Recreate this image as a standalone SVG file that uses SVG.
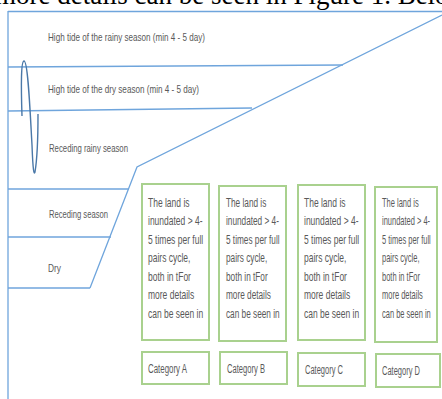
<svg xmlns="http://www.w3.org/2000/svg" width="442" height="399" viewBox="0 0 442 399">
<style>
.ln{fill:none;stroke:#6fa5dc;stroke-width:1.3}
.bx{fill:#fff;stroke:#a9d18e;stroke-width:2}
.lb{font-family:"Liberation Sans",Arial,sans-serif;font-size:11px;fill:#595959}
.bt{font-family:"Liberation Sans",Arial,sans-serif;font-size:12.5px;fill:#595959}
.hd{font-family:"Liberation Serif","Times New Roman",serif;font-size:27px;fill:#000}
</style>
<rect width="442" height="399" fill="#fff"/>
<text class="hd" x="-5" y="4">more details can be seen in Figure 1. Below</text>
<g id="connectors">
<path class="ln" d="M8,11.5 H442" stroke="#9cc2e8"/>
<path class="ln" d="M8,11 V399"/>
<path class="ln" d="M8,67 L343,65"/>
<path class="ln" d="M8,111 L252,108"/>
<path class="ln" d="M8,189 H129"/>
<path class="ln" d="M8,237 H111"/>
<path class="ln" d="M8,288 H90"/>
<path class="ln" d="M442,15 L137,167 L90,288"/>
<path d="M22,116 C21,85 21,61 24,61 C28,61 30,110 32,145 C33,172 34,175 35,172 C37,160 38,130 38,114" fill="none" stroke="#4a78a8" stroke-width="1.4"/>
</g>
<g id="label-rainy-high"><text class="lb" x="48" y="41" textLength="157" lengthAdjust="spacingAndGlyphs">High tide of the rainy season (min 4 - 5 day)</text></g>
<g id="label-dry-high"><text class="lb" x="48" y="93" textLength="151" lengthAdjust="spacingAndGlyphs">High tide of the dry season (min 4 - 5 day)</text></g>
<g id="label-receding-rainy"><text class="lb" x="49" y="152" textLength="79" lengthAdjust="spacingAndGlyphs">Receding rainy season</text></g>
<g id="label-receding"><text class="lb" x="49" y="218" textLength="59" lengthAdjust="spacingAndGlyphs">Receding season</text></g>
<g id="label-dry"><text class="lb" x="48" y="272" textLength="13" lengthAdjust="spacingAndGlyphs">Dry</text></g>
<defs>
<g id="lines">
<text class="bt" x="0" y="207">The land is</text>
<text class="bt" x="0" y="225.5">inundated &gt; 4-</text>
<text class="bt" x="0" y="244">5 times per full</text>
<text class="bt" x="0" y="262.5">pairs cycle,</text>
<text class="bt" x="0" y="281">both in tFor</text>
<text class="bt" x="0" y="299.5">more details</text>
<text class="bt" x="0" y="318">can be seen in</text>
</g>
</defs>
<g id="box-a"><rect class="bx" x="142" y="184" width="67" height="156"/><use href="#lines" transform="translate(148,0) scale(0.68,1)"/></g>
<g id="box-b"><rect class="bx" x="219" y="186" width="67" height="155"/><use href="#lines" transform="translate(226,0) scale(0.66,1)"/></g>
<g id="box-c"><rect class="bx" x="298" y="185" width="67" height="155"/><use href="#lines" transform="translate(304,0) scale(0.68,1)"/></g>
<g id="box-d"><rect class="bx" x="375" y="187" width="62" height="155"/><use href="#lines" transform="translate(382,0) scale(0.6,1)"/></g>
<g id="cat-a"><rect class="bx" x="142" y="352" width="67" height="32"/><text class="bt" x="148" y="373" textLength="39" lengthAdjust="spacingAndGlyphs">Category A</text></g>
<g id="cat-b"><rect class="bx" x="220" y="352" width="67" height="32"/><text class="bt" x="227" y="373" textLength="38" lengthAdjust="spacingAndGlyphs">Category B</text></g>
<g id="cat-c"><rect class="bx" x="298" y="353" width="67" height="33"/><text class="bt" x="305" y="374" textLength="38" lengthAdjust="spacingAndGlyphs">Category C</text></g>
<g id="cat-d"><rect class="bx" x="376" y="354" width="64" height="33"/><text class="bt" x="382" y="375" textLength="38" lengthAdjust="spacingAndGlyphs">Category D</text></g>
</svg>
